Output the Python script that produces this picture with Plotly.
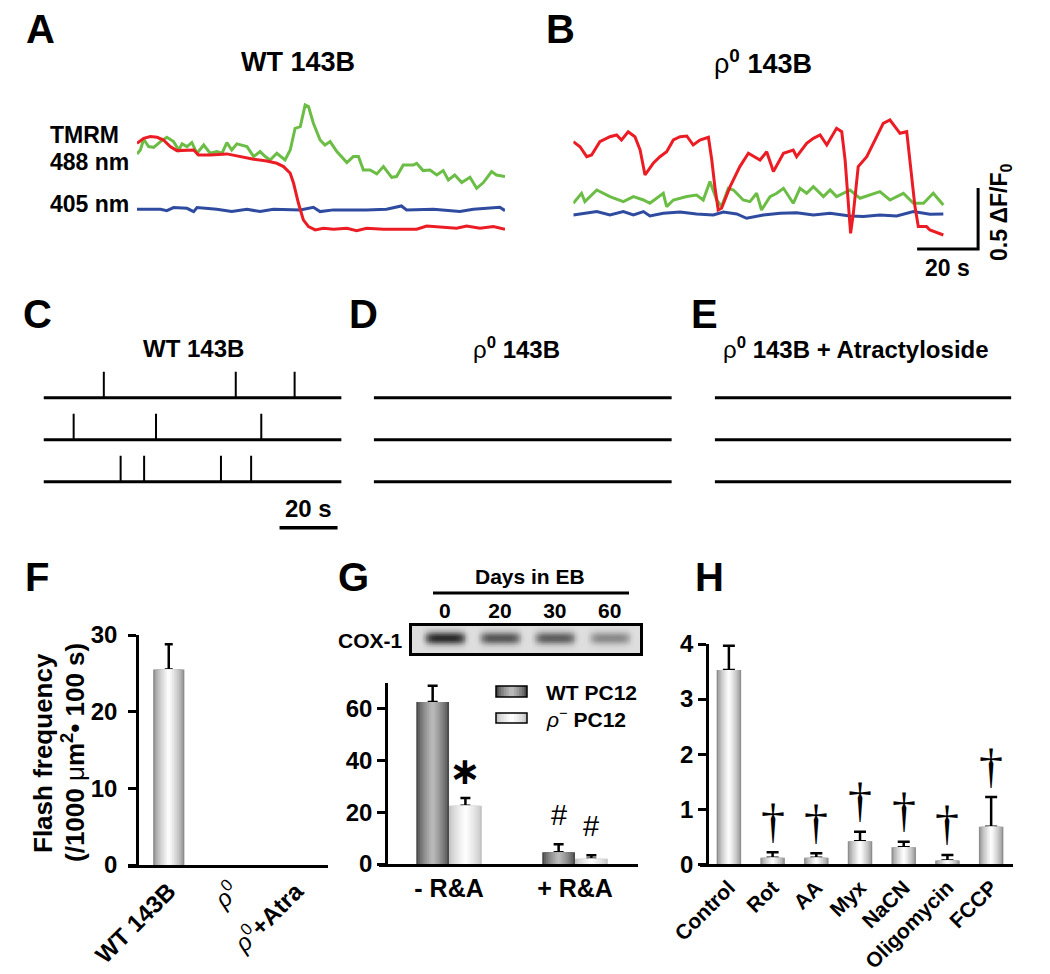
import numpy as np
import plotly.graph_objects as go

# page body has an 8px margin, so the figure is sized to fill the rest of the window
OFF = 8
FIG_W, FIG_H = 1050 - OFF, 974 - OFF
FONT = "Liberation Sans, Arial, sans-serif"
SERIF = "Liberation Serif, Times New Roman, serif"


def px(x):
    return (x - OFF) / FIG_W


def py(y):
    return 1 - (y - OFF) / FIG_H


# ---------------- Panel A: WT 143B, (time s, dF/F0 stacked) ----------------
a_red = [(0, 0.541), (2.2, 0.582), (4.4, 0.596), (6.6, 0.590), (8.7, 0.568), (10.9, 0.514),
         (13.1, 0.481), (16.4, 0.481), (18.6, 0.486), (20.2, 0.445), (24.0, 0.445), (29.5, 0.454),
         (33.9, 0.432), (38.3, 0.410), (42.6, 0.396), (45.9, 0.377), (48.1, 0.350), (50.3, 0.295),
         (51.4, 0.213), (53.0, 0.049), (54.6, -0.087), (56.3, -0.142), (58.5, -0.169), (61.2, -0.156),
         (64.5, -0.164), (68.9, -0.156), (72.1, -0.175), (75.4, -0.156), (80.9, -0.164), (86.3, -0.164),
         (91.8, -0.164), (95.1, -0.137), (99.5, -0.148), (104.9, -0.156), (108.2, -0.137),
         (112.6, -0.156), (117.0, -0.142), (120.8, -0.164)]
a_green = [(0, 0.454), (1.1, 0.486), (2.2, 0.574), (3.8, 0.514), (5.5, 0.508), (7.7, 0.555),
           (9.8, 0.590), (12.0, 0.555), (13.7, 0.486), (14.8, 0.536), (16.4, 0.514), (18.0, 0.546),
           (19.7, 0.459), (21.9, 0.527), (24.0, 0.459), (26.2, 0.473), (27.9, 0.459), (29.5, 0.546),
           (31.1, 0.486), (32.8, 0.536), (36.1, 0.514), (38.3, 0.432), (40.4, 0.473), (42.1, 0.432),
           (43.7, 0.404), (45.9, 0.459), (48.6, 0.404), (50.3, 0.486), (51.9, 0.664), (53.6, 0.678),
           (55.2, 0.855), (56.3, 0.842), (57.9, 0.705), (60.1, 0.568), (61.7, 0.527), (63.4, 0.555),
           (65.6, 0.473), (68.9, 0.383), (71.0, 0.432), (72.7, 0.432), (74.3, 0.322), (76.5, 0.322),
           (78.7, 0.290), (80.9, 0.350), (83.6, 0.262), (85.2, 0.268), (87.4, 0.363), (90.7, 0.363),
           (91.8, 0.377), (93.9, 0.317), (96.2, 0.322), (98.4, 0.281), (100.5, 0.317), (102.2, 0.240),
           (104.3, 0.281), (106.6, 0.219), (109.3, 0.262), (111.5, 0.172), (113.7, 0.219),
           (116.4, 0.309), (118.0, 0.281), (120.8, 0.268)]
a_blue = [(0, 0), (7.7, 0), (9.8, -0.011), (12.0, 0.014), (16.4, 0.008), (18.6, -0.019),
          (19.7, 0.014), (26.2, 0), (31.1, -0.019), (36.1, 0), (40.4, -0.019), (44.8, 0),
          (53.6, -0.005), (57.9, 0.016), (60.1, -0.019), (64.5, -0.005), (75.4, -0.005), (81.9, 0),
          (86.8, 0.027), (88.5, -0.005), (97.3, 0), (106.0, -0.019), (110.4, 0), (115.8, 0.008),
          (119.1, 0.016), (120.8, -0.011)]

# ---------------- Panel B: rho0 143B ----------------
b_red = [(0, 0.587), (2.2, 0.546), (4.4, 0.464), (6.0, 0.478), (8.7, 0.587), (12.0, 0.628),
         (14.2, 0.642), (15.8, 0.601), (18.0, 0.669), (20.2, 0.628), (21.9, 0.519), (23.5, 0.314),
         (26.2, 0.410), (28.4, 0.464), (30.6, 0.505), (32.8, 0.601), (35.0, 0.628), (37.2, 0.634),
         (39.3, 0.560), (41.5, 0.601), (44.3, 0.623), (45.4, 0.437), (46.4, 0.219), (47.5, 0.027),
         (48.6, 0.041), (51.4, 0.219), (54.6, 0.383), (57.4, 0.492), (61.2, 0.437), (63.4, 0.505),
         (65.6, 0.342), (68.9, 0.492), (72.1, 0.519), (73.2, 0.464), (76.5, 0.574), (78.7, 0.615),
         (80.9, 0.642), (83.1, 0.560), (86.3, 0.697), (88.0, 0.669), (89.1, 0.437), (90.2, 0.109),
         (90.9, -0.164), (91.8, 0.0), (93.4, 0.383), (96.2, 0.464), (99.5, 0.628), (101.6, 0.738),
         (103.8, 0.765), (107.1, 0.656), (109.3, 0.669), (110.4, 0.437), (112.0, 0.055),
         (113.1, -0.109), (115.8, -0.109), (116.9, -0.137), (121.3, -0.178)]
b_green = [(0, 0.082), (2.7, 0.164), (3.8, 0.096), (7.7, 0.191), (12.0, 0.137), (16.4, 0.096),
           (19.7, 0.137), (23.0, 0.109), (25.1, 0.082), (27.3, 0.123), (29.5, 0.164), (30.6, 0.055),
           (32.8, 0.109), (37.2, 0.137), (40.4, 0.150), (42.6, 0.109), (44.8, 0.260), (47.0, 0.109),
           (48.6, 0.055), (50.8, 0.205), (52.5, 0.191), (55.7, 0.109), (57.9, 0.096), (60.1, 0.164),
           (61.7, 0.027), (64.5, 0.137), (66.7, 0.164), (68.9, 0.205), (72.1, 0.082), (74.3, 0.205),
           (76.5, 0.164), (78.7, 0.219), (82.0, 0.137), (84.2, 0.191), (86.3, 0.137), (90.7, 0.191),
           (94.0, 0.123), (100.5, 0.178), (103.8, 0.109), (108.2, 0.164), (111.5, 0.082),
           (114.8, 0.082), (118.0, 0.164), (121.3, 0.068)]
b_blue = [(0, -0.014), (3.3, 0), (7.7, 0.014), (12.0, -0.014), (16.4, 0.014), (19.7, -0.014),
          (23.0, 0.014), (25.1, -0.022), (29.5, 0), (35.0, 0.011), (40.4, -0.005), (45.9, -0.014),
          (49.2, 0.011), (53.6, -0.005), (56.8, -0.041), (62.3, -0.014), (67.8, 0), (73.2, 0.005),
          (78.7, -0.014), (84.2, 0), (90.7, -0.022), (95.1, -0.027), (100.5, -0.014), (106.0, -0.022),
          (111.5, 0.014), (116.9, -0.008), (121.3, -0.005)]

# scale bars (data units)
bar_time_s = 20
bar_dff = 0.5

# ---------------- Panels C-E: flash rasters (spike times, s) ----------------
record_len = 102.8
c_spikes = [[20.8, 66.3, 86.6], [10.4, 38.8, 75.1], [26.6, 34.7, 61.2, 71.6]]
d_spikes = [[], [], []]
e_spikes = [[], [], []]

# ---------------- Panel F ----------------
f_cats = ["<b>WT 143B</b>", "<i>ρ</i><sup>0</sup>", "<i>ρ</i><sup>0</sup><b>+Atra</b>"]
f_vals = [25.5, 0, 0]
f_err = [3.3, None, None]

# ---------------- Panel G ----------------
blot_lanes = ["0", "20", "30", "60"]
blot_intensity = [1.0, 0.74, 0.70, 0.45]
g_groups = ["<b>- R&amp;A</b>", "<b>+ R&amp;A</b>"]
g_wt = [62.7, 4.5]
g_wt_err = [6.2, 3.1]
g_rho = [22.5, 2.0]
g_rho_err = [3.0, 1.4]

# ---------------- Panel H ----------------
h_cats = ["Control", "Rot", "AA", "Myx", "NaCN", "Oligomycin", "FCCP"]
h_vals = [3.53, 0.12, 0.12, 0.42, 0.31, 0.07, 0.68]
h_err = [0.44, 0.10, 0.08, 0.17, 0.10, 0.10, 0.54]
h_sig = [False, True, True, True, True, True, True]

RED, GREEN, BLUE = "#ec1c24", "#6cbd45", "#2f4b9f"


def hex2rgb(h):
    h = h.lstrip('#')
    return [int(h[i:i + 2], 16) for i in (0, 2, 4)]


def lerp(c1, c2, t):
    a, b = hex2rgb(c1), hex2rgb(c2)
    return "rgb(%d,%d,%d)" % tuple(round(a[i] + (b[i] - a[i]) * t) for i in range(3))


def gradient_bars(x, y, err, xa, ya, edge, center, width, shift=0.0, n=9, cap=4):
    out = []
    # error bars first (drawn beneath the bar layers, so only the part above the bar shows)
    keep = [i for i, e in enumerate(err) if e is not None]
    out.append(go.Bar(x=[x[i] for i in keep], y=[y[i] for i in keep], width=width,
                      offset=shift - width / 2, marker=dict(color="rgba(0,0,0,0)", line=dict(width=0)),
                      error_y=dict(type="data", array=[err[i] for i in keep], arrayminus=[0] * len(keep),
                                   symmetric=False, color="black", thickness=2.5, width=cap),
                      xaxis=xa, yaxis=ya, showlegend=False, hoverinfo="skip"))
    for k in range(n):
        w = width * (1 - k / n)
        col = lerp(edge, center, (k / (n - 1)) ** 0.7)
        out.append(go.Bar(x=x, y=y, width=w, offset=shift - w / 2,
                          marker=dict(color=col, line=dict(width=0)),
                          xaxis=xa, yaxis=ya, showlegend=False, hoverinfo="skip"))
    return out


fig = go.Figure()


def add_trace_line(pairs, color, xa, ya):
    t, v = zip(*pairs)
    fig.add_trace(go.Scatter(x=t, y=v, mode="lines", line=dict(color=color, width=3),
                             xaxis=xa, yaxis=ya, showlegend=False, hoverinfo="skip"))


# A
add_trace_line(a_blue, BLUE, "x", "y")
add_trace_line(a_green, GREEN, "x", "y")
add_trace_line(a_red, RED, "x", "y")
# B
add_trace_line(b_blue, BLUE, "x2", "y2")
add_trace_line(b_green, GREEN, "x2", "y2")
add_trace_line(b_red, RED, "x2", "y2")
b_end = 132.7
b_base = -0.293
fig.add_trace(go.Scatter(x=[b_end - bar_time_s, b_end, b_end], y=[b_base, b_base, b_base + bar_dff],
                         mode="lines", line=dict(color="black", width=3), xaxis="x2", yaxis="y2",
                         showlegend=False, hoverinfo="skip"))

# C-E rasters
spike_h = 0.62
for spikes, xa, ya in [(c_spikes, "x3", "y3"), (d_spikes, "x4", "y4"), (e_spikes, "x5", "y5")]:
    bx, by, sx, sy = [], [], [], []
    for i, row in enumerate(spikes):
        base = -i
        bx += [0, record_len, None]
        by += [base, base, None]
        for s in row:
            sx += [s, s, None]
            sy += [base, base + spike_h, None]
    fig.add_trace(go.Scatter(x=bx, y=by, mode="lines", line=dict(color="black", width=3),
                             xaxis=xa, yaxis=ya, showlegend=False, hoverinfo="skip"))
    if sx:
        fig.add_trace(go.Scatter(x=sx, y=sy, mode="lines", line=dict(color="black", width=2),
                                 xaxis=xa, yaxis=ya, showlegend=False, hoverinfo="skip"))
c_bar_y = -3.10
fig.add_trace(go.Scatter(x=[record_len - 1.4 - bar_time_s, record_len - 1.4], y=[c_bar_y, c_bar_y],
                         mode="lines", line=dict(color="black", width=3.5), xaxis="x3", yaxis="y3",
                         showlegend=False, hoverinfo="skip"))

# F
for tr in gradient_bars(f_cats, f_vals, f_err, "x6", "y6", "#8e8e8e", "#fbfbfb", 0.49, cap=4):
    fig.add_trace(tr)

# G blot
xs = np.linspace(-0.6, 3.55, 160)
ys = np.linspace(0, 1, 40)
z = np.zeros((len(ys), len(xs)))
for k, inten in enumerate(blot_intensity):
    z += inten * np.outer(np.exp(-((ys - 0.56) / 0.23) ** 2), np.exp(-((xs - k) / 0.36) ** 6))
fig.add_trace(go.Heatmap(x=xs, y=ys, z=z, zmin=0, zmax=1.05, showscale=False, zsmooth="best",
                         colorscale=[[0, "#dedede"], [0.5, "#7c7c7c"], [1, "#222222"]],
                         xaxis="x7", yaxis="y7", hoverinfo="skip"))

# G bars
gw = 0.26
for tr in gradient_bars(g_groups, g_wt, g_wt_err, "x8", "y8", "#4a4a4a", "#b8b8b8", gw, shift=-gw / 2, cap=5):
    fig.add_trace(tr)
for tr in gradient_bars(g_groups, g_rho, g_rho_err, "x8", "y8", "#c4c4c4", "#fcfcfc", gw, shift=gw / 2, cap=5):
    fig.add_trace(tr)

# H bars
for tr in gradient_bars(h_cats, h_vals, h_err, "x9", "y9", "#8e8e8e", "#fbfbfb", 0.56, cap=6):
    fig.add_trace(tr)

# ---------------- layout ----------------
inv = dict(visible=False, fixedrange=True, automargin=False)
TICK = 24
tickfont = dict(family=FONT, size=TICK, color="black")


def bold_ticks(vals):
    return dict(tickvals=vals, ticktext=["<b>%s</b>" % v for v in vals])


yax_common = dict(showline=True, linewidth=2.5, linecolor="black", ticks="outside", ticklen=8,
                  tickwidth=2.5, tickcolor="black", showgrid=False, zeroline=False, tickfont=tickfont,
                  anchor="free", automargin=False)
xax_common = dict(showline=True, linewidth=2.5, linecolor="black", ticks="", showgrid=False,
                  zeroline=False, automargin=False)

fig.update_layout(
    template="none",
    width=FIG_W, height=FIG_H, margin=dict(l=0, r=0, t=0, b=0, pad=0, autoexpand=False),
    paper_bgcolor="white", plot_bgcolor="white", barmode="overlay", showlegend=False,
    font=dict(family=FONT, color="black"),
    xaxis=dict(domain=[px(137), px(505)], range=[0, 120.8], anchor="y", **inv),
    yaxis=dict(domain=[py(240), py(90)], range=[-0.252, 0.978], anchor="x", **inv),
    xaxis2=dict(domain=[px(573.3), px(990)], range=[0, 136.6], anchor="y2", **inv),
    yaxis2=dict(domain=[py(255), py(90)], range=[-0.342, 1.011], anchor="x2", **inv),
    xaxis3=dict(domain=[px(43.5), px(341.6)], range=[0, record_len], anchor="y3", **inv),
    yaxis3=dict(domain=[py(535), py(365)], range=[-3.27, 0.78], anchor="x3", **inv),
    xaxis4=dict(domain=[px(373.7), px(671.8)], range=[0, record_len], anchor="y4", **inv),
    yaxis4=dict(domain=[py(535), py(365)], range=[-3.27, 0.78], anchor="x4", **inv),
    xaxis5=dict(domain=[px(714.7), px(1011.4)], range=[0, record_len], anchor="y5", **inv),
    yaxis5=dict(domain=[py(535), py(365)], range=[-3.27, 0.78], anchor="x5", **inv),
    xaxis6=dict(domain=[px(128), px(328)], range=[-0.64, 2.5], anchor="y6", tickangle=-45,
                tickfont=dict(family=FONT, size=24, color="black"), categoryorder="array",
                categoryarray=f_cats, **xax_common),
    yaxis6=dict(domain=[py(865), py(635)], range=[0, 30], position=px(137), ticklabelstandoff=6,
                **bold_ticks([0, 10, 20, 30]), **yax_common),
    xaxis7=dict(domain=[px(412), px(640)], range=[-0.6, 3.55], anchor="y7", side="top", mirror=True,
                showline=True, linewidth=2.5, linecolor="black", ticks="", showgrid=False, zeroline=False,
                tickvals=list(range(len(blot_lanes))), ticktext=["<b>%s</b>" % s for s in blot_lanes],
                tickfont=dict(family=FONT, size=21, color="black"), automargin=False,
                ticklabelstandoff=-3),
    yaxis7=dict(domain=[py(653), py(626)], range=[0, 1], anchor="x7", mirror=True, showline=True,
                linewidth=2.5, linecolor="black", showticklabels=False, ticks="", showgrid=False,
                zeroline=False, automargin=False),
    xaxis8=dict(domain=[px(379), px(638)], range=[-0.556, 1.5], anchor="y8",
                tickfont=dict(family=FONT, size=25, color="black"), categoryorder="array",
                categoryarray=g_groups, **xax_common),
    yaxis8=dict(domain=[py(864), py(683)], range=[0, 70], position=px(386), **bold_ticks([0, 20, 40, 60]),
                **yax_common),
    xaxis9=dict(domain=[px(700), px(1013)], range=[-0.661, 6.5], anchor="y9", tickangle=-45,
                tickfont=dict(family=FONT, size=21, color="black"), categoryorder="array",
                categoryarray=h_cats, tickvals=h_cats, ticktext=["<b>%s</b>" % c for c in h_cats],
                **xax_common),
    yaxis9=dict(domain=[py(864.3), py(644)], range=[0, 4], position=px(707), **bold_ticks([0, 1, 2, 3, 4]),
                **yax_common),
)

ann = []


def note(text, x, y, size, bold=True, xanchor="center", yanchor="middle", angle=0, family=FONT):
    if bold:
        text = "<b>%s</b>" % text
    ann.append(dict(text=text, x=x, y=y, xref="paper", yref="paper", showarrow=False, xanchor=xanchor,
                    yanchor=yanchor, textangle=angle,
                    font=dict(family=family, size=size, color="black")))


# panel letters
for L, x, y in [("A", 40, 29), ("B", 560, 29), ("C", 37, 314), ("D", 363, 314), ("E", 704, 314),
                ("F", 37, 577), ("G", 353, 577), ("H", 709, 577)]:
    note(L, px(x), py(y), 40)

# A / B titles and labels
note("WT 143B", px(298), py(62), 27)
note("ρ<sup><b>0</b></sup> <b>143B</b>", px(763), py(62), 27, bold=False)
note("TMRM", px(48), py(135), 23, xanchor="left")
note("488 nm", px(48), py(162), 23, xanchor="left")
note("405 nm", px(48), py(204), 23, xanchor="left")
note("0.5 ΔF/F<sub>0</sub>", px(1001), py(212), 23, angle=-90)
ann.append(dict(text="<b>20 s</b>", x=b_end - bar_time_s / 2, y=b_base, xref="x2", yref="y2",
                showarrow=False, yshift=-19, font=dict(family=FONT, size=23, color="black")))

# C-E titles
note("WT 143B", px(193), py(348), 24)
note("ρ<sup><b>0</b></sup><b> 143B</b>", px(516), py(348), 24, bold=False)
note("ρ<sup><b>0</b></sup><b> 143B + Atractyloside</b>", px(856), py(348), 24, bold=False)
ann.append(dict(text="<b>20 s</b>", x=record_len - 1.4 - bar_time_s / 2, y=c_bar_y, xref="x3", yref="y3",
                showarrow=False, yshift=19, font=dict(family=FONT, size=24, color="black")))

# F axis title
note("Flash frequency", px(43), py(753), 26, angle=-90)
note("<b>(/1000 </b>μ<b>m<sup>2</sup>• 100 s)</b>", px(73), py(753), 26, angle=-90, bold=False)

# G headers
note("Days in EB", px(530), py(576), 21)
note("COX-1", px(405), py(640), 21, xanchor="right")
# G legend text
note("WT PC12", px(544), py(692), 21, xanchor="left")
note("<i>ρ</i><sup>−</sup> <b>PC12</b>", px(544), py(718), 21, xanchor="left", bold=False)

# G significance markers
ann.append(dict(text="<b>∗</b>", x=0 + gw / 2, y=g_rho[0] + g_rho_err[0], xref="x8", yref="y8",
                showarrow=False, yshift=27, font=dict(family="DejaVu Sans", size=38, color="black")))
ann.append(dict(text="#", x=1 + gw / 2, y=g_rho[1] + g_rho_err[1], xref="x8", yref="y8",
                showarrow=False, yshift=29, font=dict(family=FONT, size=29, color="black")))
ann.append(dict(text="#", x=1 - gw / 2, y=g_wt[1] + g_wt_err[1], xref="x8", yref="y8", showarrow=False,
                yshift=29, font=dict(family=FONT, size=29, color="black")))

# H daggers
for c, v, e, s in zip(h_cats, h_vals, h_err, h_sig):
    if s:
        ann.append(dict(text="†", x=c, y=v + e, xref="x9", yref="y9", showarrow=False, yshift=32,
                        font=dict(family=SERIF, size=48, color="black")))

fig.update_layout(annotations=ann)

# shapes: Days-in-EB line and legend swatches
shapes = [dict(type="line", xref="paper", yref="paper", x0=px(433), x1=px(629), y0=py(593), y1=py(593),
               line=dict(color="black", width=3))]


def swatch(x0, x1, y0, y1, edge, center, n=6):
    cx = (x0 + x1) / 2
    half = (x1 - x0) / 2
    for k in range(n):
        f = 1 - k / n
        shapes.append(dict(type="rect", xref="paper", yref="paper", x0=px(cx - half * f),
                           x1=px(cx + half * f), y0=py(y1), y1=py(y0),
                           fillcolor=lerp(edge, center, (k / (n - 1)) ** 0.7), line=dict(width=0)))
    shapes.append(dict(type="rect", xref="paper", yref="paper", x0=px(x0), x1=px(x1), y0=py(y1),
                       y1=py(y0), line=dict(color="black", width=1.5)))


swatch(496, 527, 686, 697, "#4a4a4a", "#b8b8b8")
swatch(496, 527, 713, 723, "#c4c4c4", "#fcfcfc")
fig.update_layout(shapes=shapes)

fig.write_html("out.html")
